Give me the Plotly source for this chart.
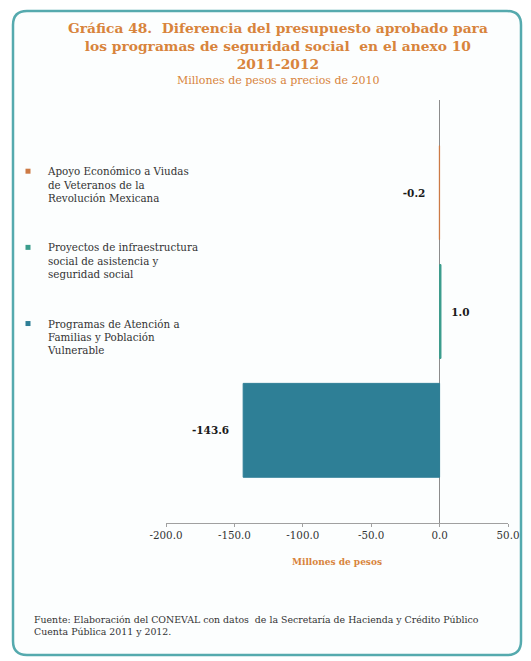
import plotly.graph_objects as go

# 数据
categorias = [
    "Apoyo Económico a Viudas<br>de Veteranos de la<br>Revolución Mexicana",
    "Proyectos de infraestructura<br>social de asistencia y<br>seguridad social",
    "Programas de Atención a<br>Familias y Población<br>Vulnerable",
]
valores = [-0.2, 1.0, -143.6]
colores = ["#CD7A45", "#3A9C8C", "#2E7F96"]
orden_eje = [categorias[2], categorias[1], categorias[0]]  # de abajo hacia arriba
ticks_x = [-200, -150, -100, -50, 0, 50]
ticks_txt = ["-200.0", "-150.0", "-100.0", "-50.0", "0.0", "50.0"]

titulo = ("Gráfica 48.  Diferencia del presupuesto aprobado para<br>"
          "los programas de seguridad social  en el anexo 10<br>2011-2012")
subtitulo = "Millones de pesos a precios de 2010"
fuente = ("Fuente: Elaboración del CONEVAL con datos  de la Secretaría de Hacienda y Crédito Público<br>"
          "Cuenta Pública 2011 y 2012.")

SERIF = "DejaVu Serif"
NARANJA = "#D8843C"

W, H = 531, 661
OFF = 8  # margen por defecto del <body> en la página
# área de trazado en píxeles de la página: x 166..508, y 100..523
L, T = 166 - OFF, 100 - OFF
R, B = W - (508 - OFF), H - (523 - OFF)
pw, ph = W - L - R, H - T - B

def px(x):
    return (x - OFF - L) / pw

def py(y):
    return (H - B - (y - OFF)) / ph

NB = '\u00a0'
fig = go.Figure()
for i, (cat, val, col) in enumerate(zip(categorias, valores, colores)):
    # separación de la etiqueta respecto al extremo de la barra
    plantilla = '%{x:.1f}' + NB * 3 if val < 0 else NB * 2 + '%{x:.1f}'
    fig.add_trace(go.Bar(
        x=[val], y=[cat], orientation='h', name=cat, showlegend=False,
        marker=dict(color=col, line=dict(color=col, width=1)),
        width=0.79,
        texttemplate=plantilla, textposition='outside',
        textfont=dict(family=SERIF, size=10.5, color='#1A1A1A', weight='bold'),
        cliponaxis=False,
    ))
    # leyenda con marcadores cuadrados pequeños
    fig.add_trace(go.Scatter(
        x=[None], y=[None], mode='markers', name=cat, legendgroup=f"g{i}",
        marker=dict(symbol='square', size=5, color=col),
    ))

# marco redondeado
x0, x1 = px(13), px(521)
y0, y1 = py(655), py(11)
rx, ry = 14 / pw, 14 / ph
path = (f"M {x0+rx},{y1} L {x1-rx},{y1} Q {x1},{y1} {x1},{y1-ry} "
        f"L {x1},{y0+ry} Q {x1},{y0} {x1-rx},{y0} "
        f"L {x0+rx},{y0} Q {x0},{y0} {x0},{y0+ry} "
        f"L {x0},{y1-ry} Q {x0},{y1} {x0+rx},{y1} Z")
fig.add_shape(type='path', path=path, xref='paper', yref='paper',
              line=dict(color='#55AAAE', width=2.5), fillcolor='#FCFEFE', layer='below')

fig.add_annotation(text=titulo, x=px(278), y=py(18), xref='paper', yref='paper',
                   xanchor='center', yanchor='top', showarrow=False,
                   font=dict(family=SERIF, size=13.8, color=NARANJA, weight='bold'))
fig.add_annotation(text=subtitulo, x=px(278), y=py(72), xref='paper', yref='paper',
                   xanchor='center', yanchor='top', showarrow=False,
                   font=dict(family=SERIF, size=11, color=NARANJA))
fig.add_annotation(text="Millones de pesos", x=0.5, y=py(555), xref='paper', yref='paper',
                   xanchor='center', yanchor='top', showarrow=False,
                   font=dict(family=SERIF, size=9, color=NARANJA, weight='bold'))
fig.add_annotation(text=fuente, x=px(32), y=py(612), xref='paper', yref='paper',
                   xanchor='left', yanchor='top', align='left', showarrow=False,
                   font=dict(family=SERIF, size=9.4, color='#333'))

fig.update_layout(
    width=W, height=H,
    margin=dict(l=L, r=R, t=T, b=B, autoexpand=False),
    paper_bgcolor='white', plot_bgcolor='rgba(0,0,0,0)',
    barmode='relative',
    showlegend=True,
    legend=dict(x=0, y=1 - 150 / H, xref='container', yref='container',
                xanchor='left', yanchor='top',
                valign='top', tracegroupgap=33, traceorder='grouped',
                font=dict(family=SERIF, size=10.3, color='#333'),
                bgcolor='rgba(0,0,0,0)', itemwidth=30),
    xaxis=dict(range=[-200, 50], tickvals=ticks_x, ticktext=ticks_txt, showgrid=False,
               zeroline=True, zerolinecolor='#8C8C8C', zerolinewidth=1,
               showline=True, linecolor='#A0A0A0', linewidth=1,
               ticks='outside', ticklen=3, tickcolor='#A0A0A0',
               tickfont=dict(family=SERIF, size=10.3, color='#333')),
    yaxis=dict(categoryorder='array', categoryarray=orden_eje,
               range=[-0.78, 2.78], showticklabels=False, showgrid=False,
               zeroline=False, showline=False),
)

fig.write_html("out.html")
